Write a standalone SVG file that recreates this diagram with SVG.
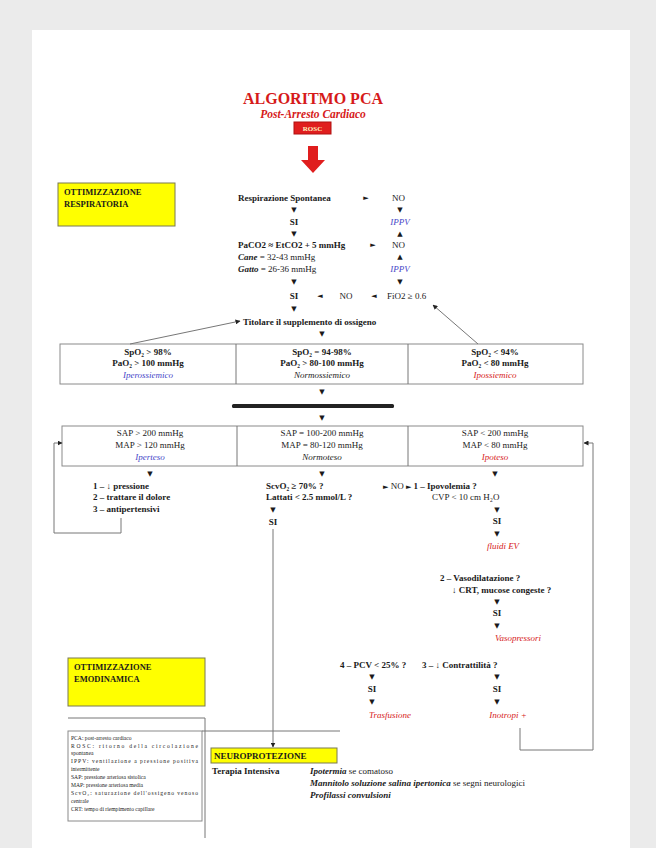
<svg xmlns="http://www.w3.org/2000/svg" width="656" height="848" viewBox="0 0 656 848">
<style>
.t{font-family:"Liberation Serif","Times New Roman",serif;font-size:9px;font-weight:bold;fill:#1a1a1a}
.n{font-weight:normal}
.c{text-anchor:middle}
.i{font-style:italic}
.red{fill:#d61a1a}
.blue{fill:#4646c8}
.s{font-family:"DejaVu Sans",sans-serif;font-size:7px;fill:#1a1a1a;text-anchor:middle}
.box{fill:#fff;stroke:#8a8a8a;stroke-width:1}
.yel{fill:#ffff00;stroke:#7a7a50;stroke-width:1}
.ln{fill:none;stroke:#777;stroke-width:1}
.lg{font-family:"Liberation Serif","Times New Roman",serif;font-size:5.6px;fill:#222}
</style>
<defs>
<marker id="ah" viewBox="0 0 10 10" refX="9" refY="5" markerWidth="5" markerHeight="5" orient="auto">
<path d="M0,0 L10,5 L0,10 z" fill="#222"/>
</marker>
</defs>
<rect x="0" y="0" width="656" height="848" fill="#ebebeb"/>
<rect x="32" y="30" width="598" height="818" fill="#ffffff"/>

<g id="title">
<text class="t c red" x="313" y="104" style="font-size:16px">ALGORITMO PCA</text>
<text class="t c i red" x="313" y="118" style="font-size:11.5px">Post-Arresto Cardiaco</text>
</g>
<g id="rosc">
<rect x="294" y="122" width="37" height="12" fill="#e01e1e" stroke="#b01010"/>
<text class="t c" x="312.5" y="131" style="font-size:7px;fill:#fff4c0">ROSC</text>
<path d="M308,146 L318,146 L318,160 L325,160 L313,173 L301,160 L308,160 z" fill="#e01e1e"/>
</g>

<g id="resp-label">
<rect class="yel" x="58" y="183" width="117" height="43"/>
<text class="t" x="64" y="195" style="font-size:8.5px">OTTIMIZZAZIONE</text>
<text class="t" x="64" y="207" style="font-size:8.5px">RESPIRATORIA</text>
</g>

<g id="respiratory-flow">
<text class="t" x="238" y="201">Respirazione  Spontanea</text>
<text class="s" x="366" y="200">►</text>
<text class="t n" x="392" y="201">NO</text>
<text class="s" x="294" y="212">▼</text>
<text class="s" x="400" y="212">▼</text>
<text class="t c" x="294" y="225">SI</text>
<text class="t c n i blue" x="400" y="225">IPPV</text>
<text class="s" x="294" y="236">▼</text>
<text class="s" x="400" y="236">▲</text>
<text class="t" x="238" y="248">PaCO2 ≈ EtCO2 + 5 mmHg</text>
<text class="s" x="373" y="247">►</text>
<text class="t n" x="392" y="248">NO</text>
<text class="t n" x="238" y="260"><tspan class="i" font-weight="bold">Cane</tspan> = 32-43 mmHg</text>
<text class="s" x="400" y="259">▲</text>
<text class="t n" x="238" y="272"><tspan class="i" font-weight="bold">Gatto</tspan> = 26-36 mmHg</text>
<text class="t c n i blue" x="400" y="272">IPPV</text>
<text class="s" x="294" y="284">▼</text>
<text class="s" x="400" y="284">▼</text>
<text class="t c" x="294" y="299">SI</text>
<text class="s" x="320" y="298">◄</text>
<text class="t c n" x="346" y="299">NO</text>
<text class="s" x="374" y="298">◄</text>
<text class="t n" x="387" y="299">FiO2 ≥ 0.6</text>
<text class="s" x="294" y="311">▼</text>
<text class="t" x="243" y="325">Titolare il supplemento  di ossigeno</text>
<text class="s" x="322" y="336">▼</text>
</g>

<g id="oxygen-row">
<rect class="box" x="60" y="344" width="523" height="40"/>
<line class="ln" x1="236" y1="344" x2="236" y2="384"/>
<line class="ln" x1="408" y1="344" x2="408" y2="384"/>
<text class="t c" x="148" y="355">SpO₂ &gt; 98%</text>
<text class="t c" x="148" y="366">PaO₂ &gt; 100 mmHg</text>
<text class="t c n i blue" x="148" y="378">Iperossiemico</text>
<text class="t c" x="322" y="355">SpO₂ = 94-98%</text>
<text class="t c" x="322" y="366">PaO₂ &gt; 80-100 mmHg</text>
<text class="t c n i" x="322" y="378">Normossiemico</text>
<text class="t c" x="495" y="355">SpO₂ &lt; 94%</text>
<text class="t c" x="495" y="366">PaO₂ &lt; 80 mmHg</text>
<text class="t c n i red" x="495" y="378">Ipossiemico</text>
</g>
<text class="s" x="322" y="394">▼</text>
<rect x="232" y="404" width="162" height="4" rx="1.5" fill="#222"/>
<text class="s" x="322" y="420">▼</text>

<g id="pressure-row">
<rect class="box" x="62" y="426" width="521" height="40"/>
<line class="ln" x1="237" y1="426" x2="237" y2="466"/>
<line class="ln" x1="408" y1="426" x2="408" y2="466"/>
<text class="t c n" x="150" y="436">SAP &gt; 200 mmHg</text>
<text class="t c n" x="150" y="448">MAP &gt; 120 mmHg</text>
<text class="t c n i blue" x="150" y="460">Iperteso</text>
<text class="t c n" x="322" y="436">SAP = 100-200 mmHg</text>
<text class="t c n" x="322" y="448">MAP = 80-120 mmHg</text>
<text class="t c n i" x="322" y="460">Normoteso</text>
<text class="t c n" x="495" y="436">SAP &lt; 200 mmHg</text>
<text class="t c n" x="495" y="448">MAP &lt; 80 mmHg</text>
<text class="t c n i red" x="495" y="460">Ipoteso</text>
</g>

<g id="hypertension">
<text class="s" x="150" y="476">▼</text>
<text class="t" x="93" y="489">1 – ↓ pressione</text>
<text class="t" x="93" y="500">2 – trattare il dolore</text>
<text class="t" x="93" y="512">3 – antipertensivi</text>
</g>

<g id="normotension">
<text class="s" x="322" y="476">▼</text>
<text class="t" x="266" y="489">ScvO₂ ≥ 70% ?</text>
<text class="t" x="266" y="500">Lattati &lt; 2.5 mmol/L ?</text>
<text class="s" x="273" y="512">▼</text>
<text class="t c" x="273" y="525">SI</text>
</g>

<g id="hypotension">
<text class="s" x="495" y="476">▼</text>
<text class="t" x="383" y="489"><tspan font-family="DejaVu Sans" font-size="7">►</tspan> <tspan font-weight="normal">NO</tspan> <tspan font-family="DejaVu Sans" font-size="7">►</tspan>  1 – Ipovolemia   ?</text>
<text class="t n" x="432" y="500">CVP &lt; 10 cm H₂O</text>
<text class="s" x="497" y="512">▼</text>
<text class="t c" x="497" y="524">SI</text>
<text class="s" x="497" y="536">▼</text>
<text class="t c n i red" x="503" y="549">fluidi EV</text>
<text class="t" x="440" y="581">2 – Vasodilatazione ?</text>
<text class="t" x="452" y="593">↓ CRT, mucose congeste ?</text>
<text class="s" x="497" y="604">▼</text>
<text class="t c" x="497" y="616">SI</text>
<text class="s" x="497" y="628">▼</text>
<text class="t c n i red" x="518" y="641">Vasopressori</text>
<text class="t" x="340" y="668">4 – PCV &lt; 25% ?</text>
<text class="t" x="422" y="668">3 – ↓ Contrattilità  ?</text>
<text class="s" x="372" y="679">▼</text>
<text class="s" x="497" y="679">▼</text>
<text class="t c" x="372" y="692">SI</text>
<text class="t c" x="497" y="692">SI</text>
<text class="s" x="372" y="704">▼</text>
<text class="s" x="497" y="704">▼</text>
<text class="t c n i red" x="390" y="718">Trasfusione</text>
<text class="t c n i red" x="508" y="718">Inotropi +</text>
</g>

<g id="emo-label">
<rect class="yel" x="68" y="658" width="137" height="48"/>
<text class="t" x="74" y="670" style="font-size:8.5px">OTTIMIZZAZIONE</text>
<text class="t" x="74" y="682" style="font-size:8.5px">EMODINAMICA</text>
</g>

<g id="legend">
<polyline class="ln" points="68,718 205,718 205,838"/>
<rect class="box" x="68" y="731" width="134" height="90"/>
<text class="lg" x="71" y="740">PCA: post-arresto cardiaco</text>
<text class="lg" x="71" y="748" textLength="127" lengthAdjust="spacing">ROSC: ritorno della circolazione</text>
<text class="lg" x="71" y="755">spontanea</text>
<text class="lg" x="71" y="763" textLength="127" lengthAdjust="spacing">IPPV: ventilazione a pressione positiva</text>
<text class="lg" x="71" y="771">intermittente</text>
<text class="lg" x="71" y="779">SAP: pressione arteriosa sistolica</text>
<text class="lg" x="71" y="787">MAP: pressione arteriosa media</text>
<text class="lg" x="71" y="795" textLength="127" lengthAdjust="spacing">ScvO₂: saturazione dell'ossigeno venoso</text>
<text class="lg" x="71" y="803">centrale</text>
<text class="lg" x="71" y="811">CRT: tempo di riempimento capillare</text>
</g>

<g id="neuro">
<rect class="yel" x="211" y="748" width="126" height="15"/>
<text class="t" x="214" y="759" style="font-size:9px">NEUROPROTEZIONE</text>
<text class="t" x="212" y="774">Terapia  Intensiva</text>
<text class="t n" x="310" y="774"><tspan class="i" font-weight="bold">Ipotermia</tspan> se comatoso</text>
<text class="t n" x="310" y="786"><tspan class="i" font-weight="bold">Mannitolo soluzione salina ipertonica</tspan> se segni neurologici</text>
<text class="t i" x="310" y="798">Profilassi convulsioni</text>
</g>

<g id="connectors">
<line class="ln" x1="130" y1="344" x2="240" y2="321" marker-end="url(#ah)"/>
<line class="ln" x1="478" y1="344" x2="433" y2="305" marker-end="url(#ah)"/>
<polyline class="ln" points="121,518 121,533 54,533 54,443 62,443" marker-end="url(#ah)"/>
<polyline class="ln" points="520,728 520,750 593,750 593,443 584,443" marker-end="url(#ah)"/>
<polyline class="ln" points="273,529 273,747" marker-end="url(#ah)"/>
<line class="ln" x1="202" y1="731" x2="340" y2="731"/>
</g>
</svg>
